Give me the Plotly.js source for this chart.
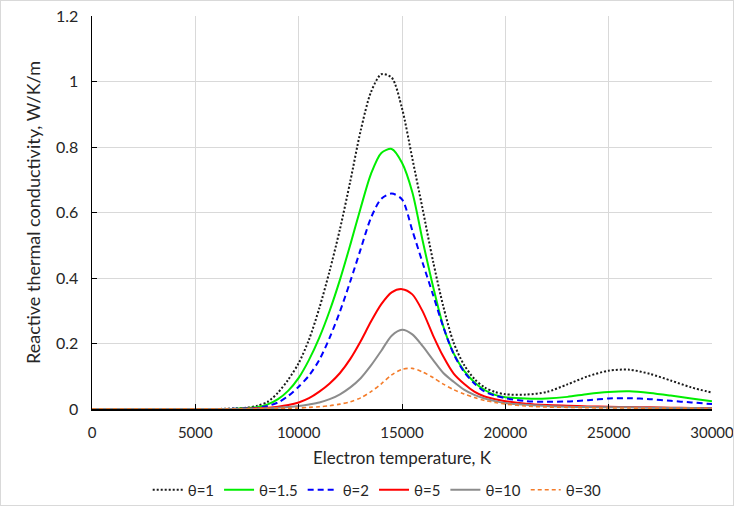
<!DOCTYPE html>
<html>
<head>
<meta charset="utf-8">
<script src="https://cdn.plot.ly/plotly-3.0.1.min.js"></script>
<style>
  html, body { margin: 0; padding: 0; background: #fff; }
  #frame { width: 734px; height: 506px; box-sizing: border-box; border: 1px solid #d9d9d9; overflow: hidden; }
  #chart { width: 732px; height: 504px; }
</style>
</head>
<body>
<div id="frame"><div id="chart"></div></div>
<script>
// Electron temperature grid, K
const temperature = [0, 1000, 2000, 3000, 4000, 5000, 6000, 6500, 7000, 7500, 8000, 8500, 9000, 9500,
  10000, 10500, 11000, 11500, 12000, 12500, 13000, 13500, 14000, 14500, 15000, 15500, 16000, 16500,
  17000, 17500, 18000, 18500, 19000, 19500, 20000, 21000, 22000, 23000, 24000, 25000, 26000, 27000,
  28000, 29000, 30000];

// Reactive thermal conductivity, W/K/m, for each theta
const theta1 = [0, 0, 0, 0, 0, 0, 0, 0.001, 0.002, 0.004, 0.010, 0.022, 0.050, 0.090,
  0.140, 0.212, 0.308, 0.422, 0.550, 0.696, 0.850, 0.968, 1.022, 1.012, 0.918, 0.765, 0.610, 0.452,
  0.313, 0.202, 0.135, 0.092, 0.066, 0.052, 0.045, 0.044, 0.052, 0.075, 0.100, 0.117, 0.120, 0.107,
  0.087, 0.066, 0.050];
const theta1_5 = [0, 0, 0, 0, 0, 0, 0, 0, 0.001, 0.003, 0.006, 0.014, 0.030, 0.056,
  0.095, 0.150, 0.218, 0.300, 0.395, 0.502, 0.614, 0.718, 0.782, 0.794, 0.752, 0.662, 0.514, 0.375,
  0.252, 0.170, 0.117, 0.082, 0.058, 0.043, 0.036, 0.032, 0.032, 0.037, 0.046, 0.052, 0.054, 0.049,
  0.041, 0.032, 0.024];
const theta2 = [0, 0, 0, 0, 0, 0, 0, 0, 0.001, 0.002, 0.004, 0.009, 0.020, 0.040,
  0.068, 0.102, 0.150, 0.218, 0.298, 0.390, 0.488, 0.584, 0.642, 0.658, 0.640, 0.545, 0.446, 0.349,
  0.250, 0.168, 0.114, 0.078, 0.053, 0.041, 0.033, 0.024, 0.022, 0.023, 0.027, 0.032, 0.033, 0.030,
  0.025, 0.020, 0.015];
const theta5 = [0, 0, 0, 0, 0, 0, 0, 0, 0, 0.001, 0.002, 0.004, 0.007, 0.012,
  0.020, 0.033, 0.053, 0.078, 0.110, 0.153, 0.207, 0.267, 0.320, 0.356, 0.366, 0.350, 0.298, 0.225,
  0.160, 0.108, 0.077, 0.053, 0.038, 0.030, 0.024, 0.016, 0.012, 0.010, 0.008, 0.007, 0.006, 0.005,
  0.004, 0.003, 0.003];
const theta10 = [0, 0, 0, 0, 0, 0, 0, 0, 0, 0.001, 0.001, 0.002, 0.004, 0.006,
  0.009, 0.014, 0.020, 0.030, 0.045, 0.066, 0.094, 0.133, 0.178, 0.224, 0.242, 0.228, 0.192, 0.150,
  0.110, 0.083, 0.059, 0.043, 0.032, 0.024, 0.018, 0.013, 0.009, 0.007, 0.006, 0.005, 0.005, 0.004,
  0.003, 0.003, 0.002];
const theta30 = [0, 0, 0, 0, 0, 0, 0, 0, 0, 0, 0.001, 0.001, 0.002, 0.002,
  0.003, 0.005, 0.007, 0.010, 0.015, 0.022, 0.034, 0.053, 0.077, 0.104, 0.121, 0.124, 0.113, 0.096,
  0.076, 0.059, 0.046, 0.035, 0.026, 0.020, 0.015, 0.009, 0.006, 0.005, 0.004, 0.003, 0.003, 0.002,
  0.002, 0.002, 0.001];

const seriesNames = ['θ=1', 'θ=1.5', 'θ=2', 'θ=5', 'θ=10', 'θ=30'];
const seriesValues = [theta1, theta1_5, theta2, theta5, theta10, theta30];
const seriesLines = [
  { color: '#1a1a1a', width: 2, dash: '2px,2px' },
  { color: '#00ee00', width: 2, dash: 'solid' },
  { color: '#0000ff', width: 2, dash: '6px,4px' },
  { color: '#ff0000', width: 2, dash: 'solid' },
  { color: '#8c8c8c', width: 2, dash: 'solid' },
  { color: '#f47c2a', width: 1.6, dash: '4px,3px' }
];

const traces = seriesNames.map((name, i) => ({
  type: 'scatter',
  mode: 'lines',
  name: name,
  x: temperature,
  y: seriesValues[i],
  line: Object.assign({ shape: 'spline', smoothing: 0.8 }, seriesLines[i])
}));

const FONT = 'Lato, "Open Sans", sans-serif';
const TEXT = '#262626';

const layout = {
  width: 732,
  height: 504,
  margin: { l: 91, r: 21, t: 15, b: 96, autoexpand: false },
  paper_bgcolor: '#ffffff',
  plot_bgcolor: '#ffffff',
  font: { family: FONT, size: 14, color: TEXT },
  showlegend: true,
  legend: {
    orientation: 'h',
    x: 0.46, xanchor: 'center',
    y: -0.206, yanchor: 'middle',
    font: { family: FONT, size: 15, color: TEXT },
    itemwidth: 30,
    tracegroupgap: 0
  },
  xaxis: {
    range: [0, 30000],
    tick0: 0,
    dtick: 5000,
    tickformat: 'd',
    showgrid: true,
    gridcolor: '#d9d9d9',
    gridwidth: 1,
    showline: true,
    linecolor: '#000000',
    linewidth: 1.5,
    ticks: 'inside',
    ticklen: 5,
    tickcolor: '#000000',
    ticklabelstandoff: 9,
    ticklabeloverflow: 'allow',
    zeroline: false,
    tickfont: { family: FONT, size: 15, color: TEXT },
    title: { text: 'Electron temperature, K', font: { family: FONT, size: 17, color: TEXT }, standoff: 12 }
  },
  yaxis: {
    range: [0, 1.2],
    tick0: 0,
    dtick: 0.2,
    showgrid: true,
    gridcolor: '#d9d9d9',
    gridwidth: 1,
    showline: true,
    linecolor: '#000000',
    linewidth: 1.5,
    ticks: 'inside',
    ticklen: 5,
    tickcolor: '#000000',
    ticklabelstandoff: 9,
    zeroline: false,
    tickfont: { family: FONT, size: 16, color: TEXT },
    title: { text: 'Reactive thermal conductivity, W/K/m', font: { family: FONT, size: 18, color: TEXT }, standoff: 10 }
  }
};

Plotly.newPlot('chart', traces, layout, { staticPlot: true, displayModeBar: false });
</script>
</body>
</html>
